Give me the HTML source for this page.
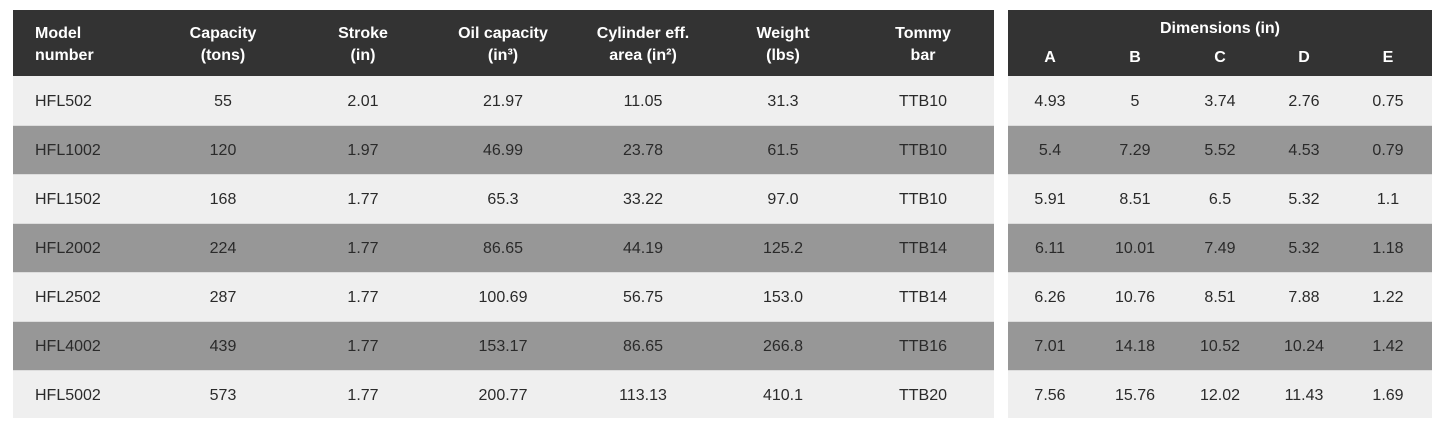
<!DOCTYPE html>
<html><head><meta charset="utf-8"><style>
body{margin:0;width:1445px;height:430px;background:#fff;position:relative;font-family:"Liberation Sans",sans-serif;overflow:hidden}
.b{position:absolute}
.t{position:absolute;transform:translateX(-50%);text-align:center;white-space:nowrap;color:#2a2a2a;font-size:16px}
.h{position:absolute;transform:translateX(-50%);text-align:center;white-space:nowrap;color:#fff;font-size:16px;font-weight:bold;line-height:22px}
</style></head><body>
<div class="b" style="left:13px;top:10px;width:981px;height:66px;background:#333"></div>
<div class="b" style="left:1008px;top:10px;width:424px;height:66px;background:#333"></div>
<div id="rows"></div>
<div class="h" style="left:35px;top:23px;transform:none;text-align:left">Model<br>number</div>
<div class="h" style="left:223px;top:23px">Capacity<br>(tons)</div>
<div class="h" style="left:363px;top:23px">Stroke<br>(in)</div>
<div class="h" style="left:503px;top:23px">Oil capacity<br>(in³)</div>
<div class="h" style="left:643px;top:23px">Cylinder eff.<br>area (in²)</div>
<div class="h" style="left:783px;top:23px">Weight<br>(lbs)</div>
<div class="h" style="left:923px;top:23px">Tommy<br>bar</div>
<div class="h" style="left:1220px;top:18px">Dimensions (in)</div>
<div class="h" style="left:1050px;top:47px">A</div>
<div class="h" style="left:1135px;top:47px">B</div>
<div class="h" style="left:1220px;top:47px">C</div>
<div class="h" style="left:1304px;top:47px">D</div>
<div class="h" style="left:1388px;top:47px">E</div>
<script>
var d=[["HFL502","55","2.01","21.97","11.05","31.3","TTB10","4.93","5","3.74","2.76","0.75"],
["HFL1002","120","1.97","46.99","23.78","61.5","TTB10","5.4","7.29","5.52","4.53","0.79"],
["HFL1502","168","1.77","65.3","33.22","97.0","TTB10","5.91","8.51","6.5","5.32","1.1"],
["HFL2002","224","1.77","86.65","44.19","125.2","TTB14","6.11","10.01","7.49","5.32","1.18"],
["HFL2502","287","1.77","100.69","56.75","153.0","TTB14","6.26","10.76","8.51","7.88","1.22"],
["HFL4002","439","1.77","153.17","86.65","266.8","TTB16","7.01","14.18","10.52","10.24","1.42"],
["HFL5002","573","1.77","200.77","113.13","410.1","TTB20","7.56","15.76","12.02","11.43","1.69"]];
var xs=[35,223,363,503,643,783,923,1050,1135,1220,1304,1388],h="";
for(var i=0;i<7;i++){var y=76+i*49,c=i%2?"#979797":"#efefef",hh=i==6?48:49;
h+='<div class="b" style="left:13px;top:'+y+'px;width:981px;height:'+hh+'px;background:'+c+';border-top:'+(i?'1px solid #ddd':'0')+';box-sizing:border-box"></div>';
h+='<div class="b" style="left:1008px;top:'+y+'px;width:424px;height:'+hh+'px;background:'+c+';border-top:'+(i?'1px solid #ddd':'0')+';box-sizing:border-box"></div>';
for(var j=0;j<12;j++){h+='<div class="t" style="left:'+xs[j]+'px;top:'+(y+17)+'px;'+(j==0?'transform:none;':'')+'">'+d[i][j]+'</div>';}}
document.getElementById("rows").innerHTML=h;
</script>
</body></html>
